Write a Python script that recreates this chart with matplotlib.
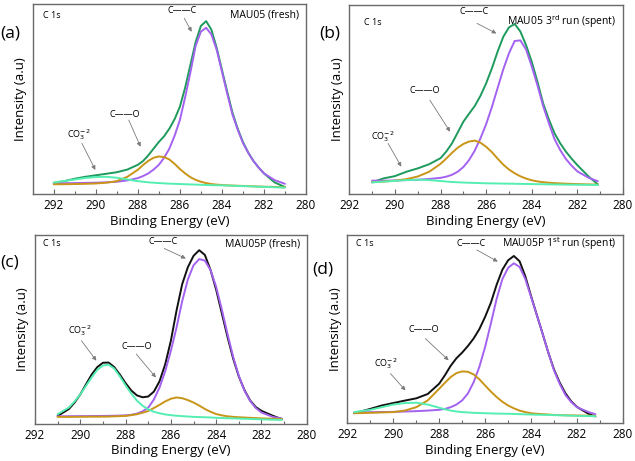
import matplotlib
matplotlib.use("Agg")
import matplotlib.pyplot as plt

plt.rcParams["font.family"] = ["Open Sans", "DejaVu Sans"]

# ---- data (intensity in % of axes height) ----
a_x = [292, 291.5, 291, 290.5, 290, 289.5, 289, 288.5, 288, 287.75, 287.5, 287.25,
       287, 286.75, 286.5, 286.25, 286, 285.75, 285.5, 285.25, 285, 284.75, 284.5,
       284.25, 284, 283.75, 283.5, 283.25, 283, 282.75, 282.5, 282.25, 282, 281.5, 281]
a_env = [6, 6.9, 8.2, 9.2, 10, 10.8, 11.6, 13, 15.5, 17.5, 20.5, 24,
         27.5, 30.5, 34.5, 39.5, 46, 56, 68, 80, 88.5, 91, 86.5,
         77, 65.5, 54, 43, 34.5, 27.5, 22, 17.5, 14, 11, 6.3, 3.8]
a_cc = [5.8, 5.8, 5.9, 6.0, 6.1, 6.3, 6.6, 7.3, 8.5, 9.6, 11, 13,
        15.5, 19.2, 24, 30.8, 39, 51, 64, 78, 85.5, 87.5, 84,
        76, 64.5, 53, 42, 34, 27, 21.8, 17.5, 14, 11, 7.5, 5.5]
a_co = [5.3, 5.3, 5.4, 5.5, 5.7, 6.1, 6.9, 9.2, 12.9, 15.4, 17.6, 19.2,
        19.9, 19.6, 18.3, 16, 13.3, 11, 9, 7.6, 6.6, 5.9, 5.4,
        5.1, 4.9, 4.7, 4.6, 4.5, 4.4, 4.3, 4.2, 4.1, 4.0, 3.9, 3.7]
a_co3 = [6.2, 7.0, 7.8, 8.6, 9.1, 9.2, 8.7, 7.8, 6.9, 6.6, 6.3, 6.1,
         5.9, 5.75, 5.6, 5.5, 5.4, 5.3, 5.2, 5.1, 5.0, 4.9, 4.8,
         4.75, 4.7, 4.6, 4.5, 4.4, 4.3, 4.2, 4.1, 4.0, 3.9, 3.7, 3.5]

b_x = [291, 290.5, 290, 289.5, 289, 288.5, 288, 287.75, 287.5, 287.25, 287,
       286.75, 286.5, 286.25, 286, 285.75, 285.5, 285.25, 285, 284.75, 284.5,
       284.25, 284, 283.75, 283.5, 283.25, 283, 282.75, 282.5, 282.25, 282, 281.5, 281.1]
b_env = [6.2, 8.3, 9.5, 11.8, 13.6, 15.8, 19, 22.5, 26.8, 32.5, 38.3,
         42.5, 46.6, 52, 58.6, 66.5, 75.3, 83.2, 88.2, 90, 86,
         78.8, 70, 59.4, 48, 39.5, 32.1, 26.8, 22.4, 18.7, 15.3, 9.2, 5.1]
b_cc = [7.1, 7.1, 7.2, 7.4, 7.6, 8, 8.6, 9.2, 10.2, 11.8, 14.3,
        18, 23, 29.5, 37, 46, 56, 66, 74.5, 81, 81.3,
        76.5, 67.5, 57.5, 46.5, 37.5, 29, 23.2, 18.5, 15, 12, 8.6, 6.8]
b_co = [6.3, 6.6, 7.1, 7.9, 9.3, 11.8, 16, 18.8, 21.8, 24.5, 26.5,
        27.8, 28.3, 27.2, 25, 22.2, 18.8, 15.6, 13, 11, 9.4,
        8.2, 7.3, 6.7, 6.3, 6.0, 5.8, 5.65, 5.5, 5.4, 5.3, 5.1, 5.0]
b_co3 = [6.2, 6.6, 7.0, 7.4, 7.6, 7.4, 6.9, 6.65, 6.4, 6.25, 6.1,
         6.0, 5.9, 5.8, 5.7, 5.65, 5.6, 5.55, 5.5, 5.45, 5.4,
         5.35, 5.3, 5.25, 5.2, 5.15, 5.1, 5.05, 5.0, 4.97, 4.95, 4.9, 4.8]

c_x = [291, 290.5, 290.25, 290, 289.75, 289.5, 289.25, 289, 288.75, 288.5,
       288.25, 288, 287.75, 287.5, 287.25, 287, 286.75, 286.5, 286.25, 286,
       285.75, 285.5, 285.25, 285, 284.75, 284.5, 284.25, 284, 283.75, 283.5,
       283.25, 283, 282.75, 282.5, 282.25, 282, 281.5, 281.1]
c_env = [4.1, 7.8, 11.2, 15.5, 20.8, 26, 30, 32.3, 32.4, 30,
         26, 21.5, 17.6, 15, 14, 14.4, 17, 22.5, 31.5, 44,
         60, 74, 83, 89, 92, 89.5, 81.5, 71, 58.5, 46,
         34.5, 25, 17.8, 12.3, 8.8, 6.8, 4.2, 2.4]
c_cc = [3.9, 3.95, 3.97, 4.0, 4.02, 4.05, 4.07, 4.1, 4.15, 4.2,
        4.3, 4.4, 4.7, 5.3, 6.5, 8.5, 12.8, 19.2, 27.8, 38.7,
        51, 65, 76.5, 84, 87.3, 86.5, 81.5, 72.5, 60.5, 47.6,
        35.5, 25.4, 17.5, 12, 8.3, 5.9, 3.6, 2.7]
c_co = [3.6, 3.6, 3.62, 3.65, 3.67, 3.7, 3.7, 3.7, 3.75, 3.9,
        4.0, 4.1, 4.5, 5, 5.8, 6.7, 8.3, 10, 11.8, 13.2,
        13.9, 13.5, 12.5, 11.2, 9.6, 7.8, 6.3, 5.1, 4.4, 3.9,
        3.6, 3.4, 3.25, 3.1, 2.95, 2.8, 2.6, 2.5]
c_co3 = [5, 8.6, 11.8, 15.5, 20, 24.5, 28.5, 30.8, 31.3, 29.2,
         25, 20.3, 16, 12.2, 9.5, 7.6, 6.3, 5.5, 4.9, 4.5,
         4.2, 4.0, 3.8, 3.6, 3.5, 3.4, 3.3, 3.1, 3.0, 2.9,
         2.8, 2.7, 2.6, 2.5, 2.4, 2.3, 2.1, 2.0]

d_x = [291.7, 291.5, 291, 290.5, 290, 289.5, 289, 288.5, 288, 287.75, 287.5, 287.25,
       287, 286.75, 286.5, 286.25, 286, 285.75, 285.5, 285.25, 285, 284.75, 284.5,
       284.25, 284, 283.75, 283.5, 283.25, 283, 282.75, 282.5, 282.25, 282, 281.5, 281.2]
d_env = [5.3, 5.9, 7.6, 9.4, 10.7, 12, 13.2, 15.5, 21, 25.5, 30.5, 34.5,
         37.5, 41, 45, 50, 56.5, 64, 73.5, 81.5, 86.5, 88.8, 86,
         78, 67.5, 57.5, 47.6, 37.5, 28.5, 21.5, 15.8, 11.6, 8.6, 5, 3.6]
d_cc = [5.7, 5.75, 5.85, 5.95, 6, 6.2, 6.4, 6.7, 7.1, 7.6, 8.5, 9.9,
        12.1, 15.8, 21.8, 30, 40.5, 53, 66, 76.5, 82.5, 84.9, 83,
        76.5, 67, 57.5, 47.6, 37.5, 28, 20.8, 14.9, 11.2, 8.5, 5.9, 4.8]
d_co = [5.3, 5.35, 5.5, 5.7, 5.9, 6.7, 8.5, 12.1, 18.3, 21.5, 24.5, 26.6,
        27.5, 27.3, 25.9, 23.3, 20, 16.8, 13.9, 11.4, 9.4, 7.9, 6.7,
        5.9, 5.3, 5.0, 4.8, 4.6, 4.4, 4.3, 4.2, 4.15, 4.1, 4.0, 3.9]
d_co3 = [5.9, 6.3, 7.1, 8.5, 9.9, 10.7, 10.9, 9.9, 8.2, 7.4, 6.7, 6.2,
         5.9, 5.7, 5.5, 5.4, 5.3, 5.2, 5.1, 5.05, 5.0, 4.9, 4.8,
         4.7, 4.6, 4.5, 4.45, 4.4, 4.3, 4.2, 4.1, 4.0, 3.9, 3.8, 3.7]

ticks = [292, 290, 288, 286, 284, 282, 280]

GREEN = "#1e9a5c"
BLACK = "#111111"
PURPLE = "#a462f0"
ORANGE = "#c99518"
TEAL = "#55eeb2"
SPINE = "#6a6a6a"
ARROW = "#7a7a7a"

panels = [
    dict(rect=[0.0515, 0.5785, 0.4304, 0.4128], xlim=(293, 280),
         x=a_x, env=a_env, cc=a_cc, co=a_co, co3=a_co3, env_c=GREEN,
         label="(a)", label_xy=(0.001, 0.928), c1s_xy=(0.037, 0.94),
         name="MAU05 (fresh)",
         cc_txt=(285.91, 96.8), cc_arr=((285.79, 92.5), (285.44, 85.4)),
         co_txt=(288.6, 42.2), co_arr=((288.43, 39), (287.87, 25)),
         co3_txt=(290.82, 31.2), co3_arr=((290.66, 26.8), (290.02, 12.8))),
    dict(rect=[0.5501, 0.579, 0.431, 0.41], xlim=(292, 280),
         x=b_x, env=b_env, cc=b_cc, co=b_co, co3=b_co3, env_c=GREEN,
         label="(b)", label_xy=(0.502, 0.928), c1s_xy=(0.055, 0.91),
         name="MAU05 3$^{\\rm rd}$ run (spent)",
         cc_txt=(286.51, 96.5), cc_arr=((286.4, 90.3), (285.55, 85)),
         co_txt=(288.68, 55), co_arr=((288.47, 49.7), (287.58, 33)),
         co3_txt=(290.53, 30.3), co3_arr=((290.3, 26.8), (289.72, 14.5))),
    dict(rect=[0.0551, 0.081, 0.428, 0.409], xlim=(292, 280),
         x=c_x, env=c_env, cc=c_cc, co=c_co, co3=c_co3, env_c=BLACK,
         label="(c)", label_xy=(0.001, 0.43), c1s_xy=(0.03, 0.955),
         name="MAU05P (fresh)",
         cc_txt=(286.33, 96.4), cc_arr=((286.29, 92.9), (285.34, 87.6)),
         co_txt=(287.5, 40.9), co_arr=((287.53, 36.9), (286.66, 24.5)),
         co3_txt=(290.02, 49.4), co3_arr=((289.95, 44), (289.29, 33.4))),
    dict(rect=[0.547, 0.082, 0.434, 0.4085], xlim=(292, 280),
         x=d_x, env=d_env, cc=d_cc, co=d_co, co3=d_co3, env_c=BLACK,
         label="(d)", label_xy=(0.492, 0.415), c1s_xy=(0.03, 0.955),
         name="MAU05P 1$^{\\rm st}$ run (spent)",
         cc_txt=(286.6, 95.2), cc_arr=((286.36, 92), (285.45, 85.8)),
         co_txt=(288.68, 49.7), co_arr=((288.6, 44.9), (287.59, 33.4)),
         co3_txt=(290.34, 31.6), co3_arr=((290.12, 26.3), (289.47, 17.4))),
]

fig = plt.figure(figsize=(6.35, 4.61), dpi=100)

for p in panels:
    ax = fig.add_axes(p["rect"])
    line_kw = dict(lw=1.4, solid_joinstyle="round", solid_capstyle="round")
    ax.plot(p["x"], p["env"], color=p["env_c"], **line_kw)
    ax.plot(p["x"], p["cc"], color=PURPLE, **line_kw)
    ax.plot(p["x"], p["co"], color=ORANGE, **line_kw)
    ax.plot(p["x"], p["co3"], color=TEAL, **line_kw)

    ax.set_xlim(*p["xlim"])
    ax.set_ylim(0, 100)
    ax.set_xticks(ticks)
    ax.set_xticks([291, 289, 287, 285, 283, 281], minor=True)
    ax.set_yticks([])
    ax.tick_params(axis="x", direction="in", length=3.5, width=0.8,
                   color=SPINE, labelsize=8.5, pad=3.5)
    ax.tick_params(axis="x", which="minor", direction="in", length=2,
                   width=0.8, color=SPINE)
    for s in ax.spines.values():
        s.set_color(SPINE)
        s.set_linewidth(1.0)
    ax.set_xlabel("Binding Energy (eV)", fontsize=9.5, labelpad=2)
    ax.set_ylabel("Intensity (a.u)", fontsize=9.5, labelpad=4)

    ax.text(*p["c1s_xy"], "C 1s", transform=ax.transAxes, fontsize=6.5,
            ha="left", va="center")
    ax.text(0.976, p["c1s_xy"][1], p["name"], transform=ax.transAxes,
            fontsize=7.5, ha="right", va="center")

    ax.text(*p["cc_txt"], "C\u2014\u2014C", fontsize=6.5, ha="center", va="center")
    ax.text(*p["co_txt"], "C\u2014\u2014O", fontsize=6.5, ha="center", va="center")
    ax.text(*p["co3_txt"], r"CO$_3^{-2}$", fontsize=6.5, ha="center", va="center")
    for tail, head in (p["cc_arr"], p["co_arr"], p["co3_arr"]):
        ax.annotate("", xy=head, xytext=tail,
                    arrowprops=dict(arrowstyle="-|>", color=ARROW, lw=0.6,
                                    mutation_scale=6, shrinkA=0, shrinkB=0))

    fig.text(*p["label_xy"], p["label"], fontsize=12.5, ha="left", va="center")

fig.savefig("out.png", dpi=100)
